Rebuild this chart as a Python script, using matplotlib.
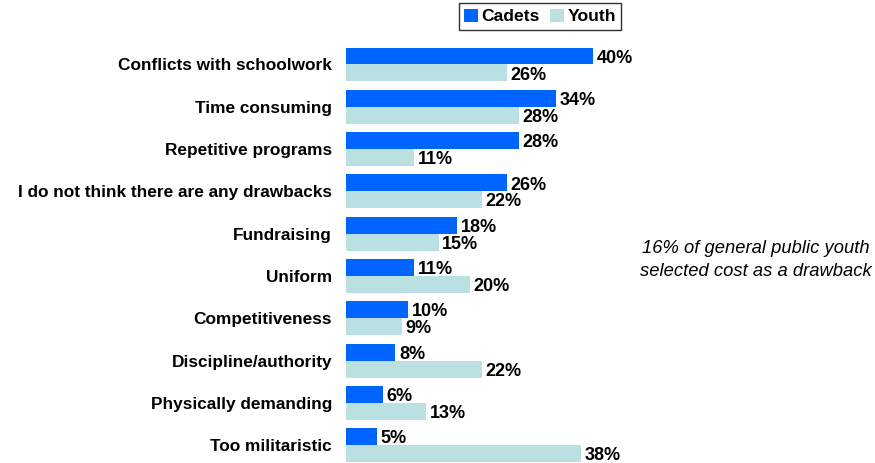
import matplotlib.pyplot as plt
import numpy as np

plt.rcParams['font.family'] = ['Liberation Sans', 'DejaVu Sans']

categories = ["Conflicts with schoolwork", "Time consuming", "Repetitive programs",
              "I do not think there are any drawbacks", "Fundraising", "Uniform",
              "Competitiveness", "Discipline/authority", "Physically demanding",
              "Too militaristic"]
cadets = [40, 34, 28, 26, 18, 11, 10, 8, 6, 5]
youth = [26, 28, 11, 22, 15, 20, 9, 22, 13, 38]

c_cadets = "#0064FF"
c_youth = "#BAE0E2"

fig = plt.figure(figsize=(8.75, 4.63), dpi=100)
ax = fig.add_axes([346 / 875, 0.0, 1 - 346 / 875, 1 - 43 / 463])

y = np.arange(len(categories))
h = 0.40
ax.barh(y - h / 2, cadets, height=h, color=c_cadets, label="Cadets")
ax.barh(y + h / 2, youth, height=h, color=c_youth, label="Youth")

# value labels next to each bar
for i in range(len(categories)):
    ax.text(cadets[i] + 0.6, y[i] - h / 2 + 0.05, f"{cadets[i]}%", va="center", ha="left",
            fontsize=13, fontweight="bold")
    ax.text(youth[i] + 0.6, y[i] + h / 2 + 0.05, f"{youth[i]}%", va="center", ha="left",
            fontsize=13, fontweight="bold")

ax.set_xlim(0, (875 - 346) / 6.175)
ax.set_ylim((463 - 64.5) / 42.3, -(64.5 - 43) / 42.3)
ax.set_yticks(y)
ax.set_yticklabels(categories, fontsize=12.4, fontweight="bold")
ax.tick_params(axis="y", length=0, pad=10)
ax.set_xticks([])
for s in ax.spines.values():
    s.set_visible(False)

fig.text(756 / 875, 1 - 260 / 463, "16% of general public youth\nselected cost as a drawback",
         ha="center", va="center", fontsize=13.2, style="italic", linespacing=1.4)

leg = fig.legend(loc="center", bbox_to_anchor=(540 / 875, 1 - 16.5 / 463), ncol=2,
                 frameon=True, fancybox=False, edgecolor="black", handlelength=0.8,
                 handleheight=0.8, handletextpad=0.2, columnspacing=0.6,
                 borderpad=0.3, prop={"weight": "bold", "size": 12.6})
leg.get_frame().set_linewidth(1.0)

fig.savefig("out.png", dpi=100)
